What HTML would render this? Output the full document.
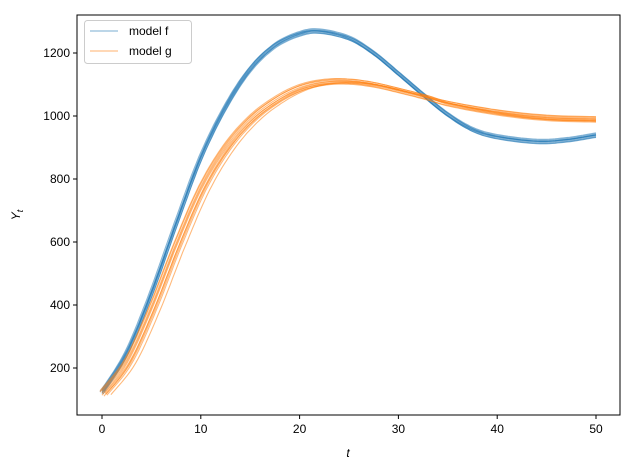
<!DOCTYPE html>
<html><head><style>body{margin:0;background:#fff}text{font-family:"Liberation Sans","DejaVu Sans",sans-serif;font-size:12px;fill:#000}</style></head>
<body>
<svg id="s" width="630" height="470" xmlns="http://www.w3.org/2000/svg">
<rect x="77" y="15" width="543" height="400" fill="none" stroke="#000" stroke-width="1"/>
<g id="curves"></g>
<g stroke="#000">
<line x1="102" y1="415" x2="102" y2="419"/><line x1="200.8" y1="415" x2="200.8" y2="419"/><line x1="299.6" y1="415" x2="299.6" y2="419"/><line x1="398.4" y1="415" x2="398.4" y2="419"/><line x1="497.2" y1="415" x2="497.2" y2="419"/><line x1="596" y1="415" x2="596" y2="419"/>
<line x1="73" y1="368" x2="77" y2="368"/><line x1="73" y1="305" x2="77" y2="305"/><line x1="73" y1="242" x2="77" y2="242"/><line x1="73" y1="179" x2="77" y2="179"/><line x1="73" y1="116" x2="77" y2="116"/><line x1="73" y1="53" x2="77" y2="53"/>
</g>
<g text-anchor="middle">
<text x="102" y="433">0</text><text x="200.8" y="433">10</text><text x="299.6" y="433">20</text><text x="398.4" y="433">30</text><text x="497.2" y="433">40</text><text x="596" y="433">50</text>
</g>
<g text-anchor="end">
<text x="70" y="372">200</text><text x="70" y="309">400</text><text x="70" y="246">600</text><text x="70" y="183">800</text><text x="70" y="120">1000</text><text x="70" y="57">1200</text>
</g>
<text x="348" y="457" text-anchor="middle" font-style="italic">t</text>
<text transform="translate(20,215) rotate(-90)" text-anchor="middle" font-style="italic">Y<tspan font-size="9" dy="3">t</tspan></text>
<rect x="84.5" y="20.5" width="107" height="43" rx="3" fill="#fff" fill-opacity="0.8" stroke="#ccc"/>
<line x1="90" y1="31" x2="118" y2="31" stroke="#1f77b4" stroke-opacity="0.6"/>
<line x1="90" y1="51" x2="118" y2="51" stroke="#ff7f0e" stroke-opacity="0.6"/>
<text x="129" y="35">model f</text><text x="129" y="55">model g</text>
</svg>
<script>
var B=[[0,125],[2.5,250],[5,440],[7.5,660],[10,870],[12.5,1030],[15,1150],[17.5,1225],[20,1262],[22,1270],[25,1248],[27.5,1200],[30,1135],[32.5,1068],[35,1005],[37.5,958],[40,935],[44,920],[47,925],[50,940]];
var O=[[0,120],[2.5,220],[5,390],[7.5,590],[10,770],[12.5,900],[15,990],[17.5,1050],[20,1090],[22.5,1108],[25,1110],[27.5,1100],[30,1082],[33,1058],[35,1040],[40,1012],[45,995],[50,990]];
function X(t){return 102+t*9.88}function Y(v){return 368-(v-200)*0.315}
function path(P,dt,dy){var d="";for(var i=0;i<P.length-1;i++){var p0=P[Math.max(i-1,0)],p1=P[i],p2=P[i+1],p3=P[Math.min(i+2,P.length-1)];
for(var k=0;k<10;k++){var u=k/10,u2=u*u,u3=u2*u;
var t=0.5*((2*p1[0])+(-p0[0]+p2[0])*u+(2*p0[0]-5*p1[0]+4*p2[0]-p3[0])*u2+(-p0[0]+3*p1[0]-3*p2[0]+p3[0])*u3);
var v=0.5*((2*p1[1])+(-p0[1]+p2[1])*u+(2*p0[1]-5*p1[1]+4*p2[1]-p3[1])*u2+(-p0[1]+3*p1[1]-3*p2[1]+p3[1])*u3);
var w=Math.min(1,t/40);var tt=t+dt*w*0+dt*(1-Math.min(1,Math.max(0,(t-35)/10)));
d+=(d?"L":"M")+X(tt).toFixed(1)+","+(Y(v)+dy).toFixed(1);}}
var l=P[P.length-1];d+="L"+X(l[0]).toFixed(1)+","+(Y(l[1])+dy).toFixed(1);return d;}
var g=document.getElementById("curves"),h="";
var bo=[[0,0],[0,-2],[0,2],[-0.2,0],[0.2,0],[0,-1],[0,1],[0.1,2.5]];
bo.forEach(function(o){h+='<path d="'+path(B,o[0],o[1])+'" fill="none" stroke="#1f77b4" stroke-opacity="0.55" stroke-width="1.1"/>';});
var oo=[[0,0],[0,-2],[0,2],[-0.2,-1],[0.3,0],[0.4,1],[0.5,2],[-0.2,-2.5],[0.2,3],[0.9,1.5]];
oo.forEach(function(o){h+='<path d="'+path(O,o[0],o[1])+'" fill="none" stroke="#ff7f0e" stroke-opacity="0.55" stroke-width="1.1"/>';});
g.innerHTML=h;
</script>
</body></html>
